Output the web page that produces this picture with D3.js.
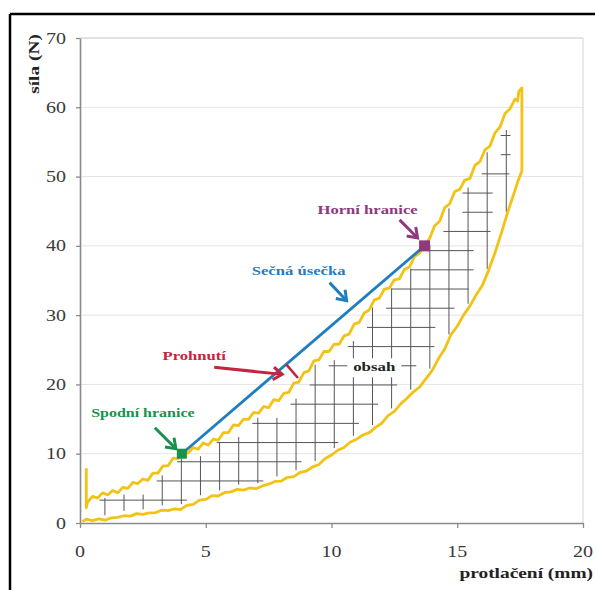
<!DOCTYPE html>
<html><head><meta charset="utf-8">
<script src="https://cdn.jsdelivr.net/npm/d3@7"></script>
<style>body{margin:0;background:#fff}svg{display:block}</style>
</head><body>
<svg id="c" width="595" height="590"></svg>
<script>
// ---------- data ----------
const xTicks = [0, 5, 10, 15, 20];
const yTicks = [0, 10, 20, 30, 40, 50, 60, 70];
const xTitle = "protlačení (mm)";
const yTitle = "síla (N)";

// initial spike of the loading curve
const spikeX = [0.25, 0.25];
const spikeY = [7.9, 2.2];
// loading (upper) curve
const upperX = [0.3,0.5,0.7,0.9,1.1,1.3,1.5,1.7,1.9,2.1,2.3,2.5,2.7,2.9,3.1,3.3,3.5,3.7,3.9,4.1,4.3,4.5,4.7,4.9,5.1,5.3,5.5,5.7,5.9,6.1,6.3,6.5,6.7,6.9,7.1,7.3,7.5,7.7,7.9,8.1,8.3,8.5,8.7,8.9,9.1,9.3,9.5,9.7,9.9,10.1,10.3,10.5,10.7,10.9,11.1,11.3,11.5,11.7,11.9,12.1,12.3,12.5,12.7,12.9,13.1,13.3,13.5,13.7,13.9,14.1,14.3,14.5,14.7,14.9,15.1,15.3,15.5,15.7,15.9,16.1,16.3,16.5,16.7,16.9,17.1,17.3,17.4,17.45,17.57];
const upperY = [3.0,3.85,3.6,4.35,4.05,4.7,4.35,5.15,5.0,5.85,5.7,6.35,6.15,7.2,7.2,8.25,8.25,9.35,9.3,10.25,10.1,10.9,10.65,11.55,11.25,12.1,11.95,13.05,13.05,14.15,14.05,15.0,14.95,15.95,15.85,16.8,16.65,17.8,17.65,18.7,18.85,20.2,20.35,21.7,21.95,23.4,23.55,24.75,24.75,25.8,25.8,27.0,27.25,28.7,28.95,30.3,30.75,32.2,32.45,33.75,33.9,35.1,35.25,36.6,36.95,38.45,38.95,40.1,41.05,42.9,43.55,45.5,46.1,47.85,48.15,49.5,49.7,51.6,52.15,53.85,54.4,56.3,57.15,59.1,59.8,61.2,60.9,62.3,62.8];
// unloading (lower) curve, listed by increasing displacement
const lowerX = [0.1,0.25,0.5,0.75,1.0,1.25,1.5,1.75,2.0,2.25,2.5,2.75,3.0,3.25,3.5,3.75,4.0,4.25,4.5,4.75,5.0,5.25,5.5,5.75,6.0,6.25,6.5,6.75,7.0,7.25,7.5,7.75,8.0,8.25,8.5,8.75,9.0,9.25,9.5,9.75,10.0,10.25,10.5,10.75,11.0,11.25,11.5,11.75,12.0,12.25,12.5,12.75,13.0,13.25,13.5,13.75,14.0,14.25,14.5,14.75,15.0,15.25,15.5,15.75,16.0,16.25,16.5,16.75,17.0,17.25,17.4,17.57];
const lowerY = [0.2,0.55,0.35,0.6,0.4,0.75,0.8,1.05,1.0,1.35,1.25,1.45,1.5,1.85,1.8,2.05,1.95,2.55,2.7,3.3,3.4,3.95,3.9,4.4,4.5,4.85,4.75,5.05,4.95,5.35,5.6,6.0,6.05,6.6,6.7,7.3,7.5,8.1,8.45,9.3,9.8,10.5,10.9,11.7,12.1,12.7,13.05,13.8,14.4,15.5,16.1,17.2,18.0,18.9,19.6,20.8,22.0,23.7,25.1,27.2,28.4,30.0,31.3,32.9,34.3,36.5,39.0,41.8,44.8,47.5,49.2,50.8];

// secant endpoints
const lowerBound = [4.05, 10.0];   // Spodní hranice
const upperBound = [13.7, 40.0];   // Horní hranice
const sagAtX = 8.2;                // Prohnutí location

// hatch grid levels
const hatchX = [0.99,1.75,2.51,3.27,4.03,4.79,5.55,6.31,7.07,7.83,8.59,9.35,10.11,10.87,11.63,12.39,13.15,13.91,14.67,15.43,16.19,16.95];
const hatchY = [3.3,6.07,8.84,11.61,14.38,17.15,19.92,22.69,25.46,28.23,31.0,33.77,36.54,39.31,42.08,44.85,47.62,50.39,53.16,55.93,58.7];

// ---------- drawing ----------
const svg = d3.select("#c");
const serif = "'Liberation Serif','Times New Roman',serif";
const SX = 1.25; // horizontal stretch of the lettering
const x = d3.scaleLinear().domain([0, 20]).range([80, 583]);
const y = d3.scaleLinear().domain([0, 70]).range([523, 38]);

function stext(tx, ty, txt, o) {
  return svg.append("text")
    .attr("transform", `translate(${tx},${ty})${o.rot ? " rotate(" + o.rot + ")" : ""} scale(${SX},1)`)
    .attr("text-anchor", o.anchor || "middle")
    .attr("font-family", serif).attr("font-weight", o.bold ? "bold" : "normal")
    .attr("font-size", o.size).attr("fill", o.color).text(txt);
}

// outer frame (top & left)
svg.append("line").attr("x1",10).attr("x2",595).attr("y1",14).attr("y2",14).attr("stroke","#000").attr("stroke-width",2.5);
svg.append("line").attr("x1",10).attr("x2",10).attr("y1",14).attr("y2",590).attr("stroke","#000").attr("stroke-width",2.5);

// gridlines
svg.append("g").selectAll("line").data(yTicks.filter(v => v > 0)).join("line")
  .attr("x1", x(0)).attr("x2", x(20)).attr("y1", d => y(d)).attr("y2", d => y(d))
  .attr("stroke", "#e4e4e4").attr("stroke-width", 1);
svg.append("line").attr("x1", x(20)).attr("x2", x(20)).attr("y1", y(70)).attr("y2", y(0)).attr("stroke","#d4d4d4");
svg.append("line").attr("x1", x(0)).attr("x2", x(20)).attr("y1", y(70)).attr("y2", y(70)).attr("stroke","#d4d4d4");

// axes (lines & ticks) ; labels drawn separately
const ya = svg.append("g").attr("transform", `translate(${x(0)},0)`)
  .call(d3.axisLeft(y).tickValues(yTicks).tickSize(4).tickSizeOuter(0).tickFormat(""));
const xa = svg.append("g").attr("transform", `translate(0,${y(0)})`)
  .call(d3.axisBottom(x).tickValues(xTicks).tickSize(5).tickSizeOuter(0).tickFormat(""));
[ya, xa].forEach(g => {
  g.select(".domain").attr("stroke", "#8a8a8a").attr("stroke-width", 1.6);
  g.selectAll(".tick line").attr("stroke", "#8a8a8a").attr("stroke-width", 1.3);
});
yTicks.forEach(v => stext(66, y(v) + 5.5, String(v), {anchor: "end", size: 16, color: "#3a3a3a"}));
xTicks.forEach(v => stext(x(v), 557, String(v), {size: 16, color: "#3a3a3a"}));

// axis titles
stext(39, 64, yTitle, {rot: -90, bold: true, size: 15.5, color: "#222"});
stext(593, 578, xTitle, {anchor: "end", bold: true, size: 15.5, color: "#222"});

// ---------- hatch ----------
function interp(xs, ys, v) {
  const i = d3.bisectRight(xs, v);
  if (i <= 0) return ys[0];
  if (i >= xs.length) return ys[ys.length - 1];
  const t = (v - xs[i-1]) / (xs[i] - xs[i-1]);
  return ys[i-1] + t * (ys[i] - ys[i-1]);
}
function crossX(xs, ys, v) {
  for (let i = 1; i < xs.length; i++) {
    if (ys[i] >= v) {
      const t = (v - ys[i-1]) / (ys[i] - ys[i-1]);
      return xs[i-1] + Math.max(0, Math.min(1, t)) * (xs[i] - xs[i-1]);
    }
  }
  return xs[xs.length - 1];
}
const segs = [];
hatchX.forEach(hx => {
  const lo = interp(lowerX, lowerY, hx) + 0.7;
  const hi = interp(upperX, upperY, hx) - 0.6;
  const inside = hatchY.filter(v => v >= lo && v <= hi);
  const top = inside.length ? Math.min(hi, d3.max(inside) + 0.8) : hi;
  if (top - lo > 0.8) segs.push([hx, lo, hx, top]);
});
hatchY.forEach(hy => {
  const left = crossX(upperX, upperY, hy) + 0.25;
  const right = (hy >= 50.8 ? 17.57 : crossX(lowerX, lowerY, hy)) - 0.45;
  const inX = hatchX.filter(v => v >= left && v <= right);
  if (!inX.length) return;
  const L = Math.max(left, d3.min(inX) - 0.22);
  const R = Math.min(right, d3.max(inX) + 0.22);
  if (R - L > 0.2) segs.push([L, hy, R, hy]);
});
svg.append("g").selectAll("line").data(segs).join("line")
  .attr("x1", d => x(d[0])).attr("y1", d => y(d[1])).attr("x2", d => x(d[2])).attr("y2", d => y(d[3]))
  .attr("stroke", "#555").attr("stroke-width", 1);

// "obsah" label with white backing
const ox = x(11.7), oy = y(21.9);
svg.append("rect").attr("x", ox - 27).attr("y", oy - 13).attr("width", 54).attr("height", 19).attr("fill", "#fff");
stext(ox, oy, "obsah", {bold: true, size: 13.5, color: "#222"});

// ---------- curve ----------
const pts = [];
spikeX.forEach((v, i) => pts.push([v, spikeY[i]]));
upperX.forEach((v, i) => pts.push([v, upperY[i]]));
for (let i = lowerX.length - 1; i >= 0; i--) pts.push([lowerX[i], lowerY[i]]);
svg.append("path").datum(pts)
  .attr("d", d3.line().x(d => x(d[0])).y(d => y(d[1])))
  .attr("fill","none").attr("stroke","#f2c314").attr("stroke-width",2.8).attr("stroke-linejoin","round");

// secant line
const p1 = [x(lowerBound[0]), y(lowerBound[1])];
const p2 = [x(upperBound[0]), y(upperBound[1])];
svg.append("line").attr("x1", p1[0]).attr("y1", p1[1]).attr("x2", p2[0]).attr("y2", p2[1])
  .attr("stroke","#1f7ec0").attr("stroke-width",2.8);

// sag tick (perpendicular from secant to curve)
const dx = p2[0]-p1[0], dy = p2[1]-p1[1], len = Math.hypot(dx, dy);
const ux = dx/len, uy = dy/len;
const nx = -uy, ny = ux;
const sx = x(sagAtX), sy = p1[1] + (sx - p1[0]) * dy / dx;
svg.append("line").attr("x1", sx).attr("y1", sy).attr("x2", sx + nx*18).attr("y2", sy + ny*18)
  .attr("stroke","#c4253e").attr("stroke-width",2.6);

// markers
svg.append("rect").attr("x", p1[0]-5).attr("y", p1[1]-5).attr("width",10).attr("height",10).attr("fill","#17924c");
svg.append("rect").attr("x", p2[0]-5.5).attr("y", p2[1]-5.5).attr("width",11).attr("height",11).attr("fill","#8e3a7c");

// arrows
function arrow(x1, y1, x2, y2, color) {
  const a = Math.atan2(y2-y1, x2-x1), h = 11, s = 0.62;
  svg.append("line").attr("x1",x1).attr("y1",y1).attr("x2",x2-Math.cos(a)*2).attr("y2",y2-Math.sin(a)*2)
    .attr("stroke",color).attr("stroke-width",3);
  svg.append("path")
    .attr("d", `M${x2-h*Math.cos(a-s)},${y2-h*Math.sin(a-s)}L${x2},${y2}L${x2-h*Math.cos(a+s)},${y2-h*Math.sin(a+s)}`)
    .attr("fill","none").attr("stroke",color).attr("stroke-width",3).attr("stroke-linejoin","miter");
}
arrow(p1[0]-27, p1[1]-26, p1[0]-6, p1[1]-5, "#17924c");
arrow(p2[0]-25, p2[1]-26, p2[0]-7, p2[1]-8, "#8e3a7c");
const bx = x(10.6), by = p1[1] + (bx - p1[0]) * dy / dx;
arrow(bx - 17, by - 30, bx, by - 12, "#1f7ec0");
arrow(sx - 72, sy + 3, sx - 4, sy + 10, "#c4253e");

// labels
stext(p1[0]-39, p1[1]-37, "Spodní hranice", {bold: true, size: 12.8, color: "#17924c"});
stext(p2[0]-57, p2[1]-32, "Horní hranice", {bold: true, size: 13.3, color: "#8e3a7c"});
stext(bx - 48, by - 38, "Sečná úsečka", {bold: true, size: 13.3, color: "#1f7ec0"});
stext(sx - 92, sy - 4, "Prohnutí", {bold: true, size: 13.3, color: "#c4253e"});
</script>
</body></html>
